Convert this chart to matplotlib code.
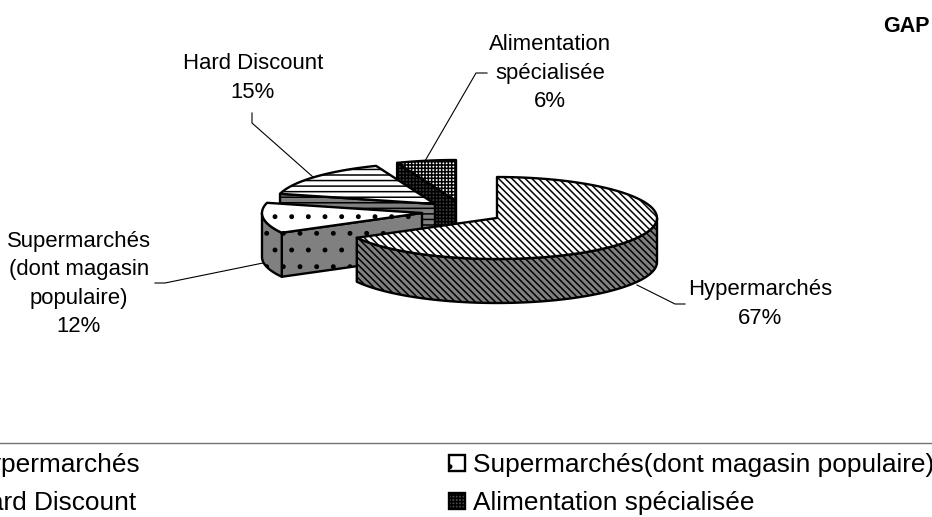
import numpy as np
import matplotlib
matplotlib.use('Agg')
import matplotlib.pyplot as plt
from matplotlib.patches import Polygon, Rectangle

plt.rcParams['font.family'] = ['Liberation Sans', 'DejaVu Sans']
plt.rcParams['hatch.linewidth'] = 1.1

# Data
categories = ['Hypermarchés', 'Supermarchés\n(dont magasin\npopulaire)', 'Hard Discount', 'Alimentation\nspécialisée']
legend_labels = ['Hypermarchés', 'Supermarchés(dont magasin populaire)', 'Hard Discount', 'Alimentation spécialisée']
shares = [67, 12, 15, 6]

# Pie layout in pixels
centre = (450, 208)
rx, ry, depth = 160, 41, 44
explode = [(47, 10), (-28, 5), (-15, -4), (6, -7)]
top_hatch = ['\\' * 5, '.', '---', '+' * 5]
side_hatch = ['\\' * 5, '.', '---', '+' * 5]
side_color = ['0.5', '0.5', '0.5', '0.25']
starts = np.cumsum([0] + shares[:-1]) * 3.6
ends = np.cumsum(shares) * 3.6

fig = plt.figure(figsize=(9.32, 5.17), dpi=100)
ax = fig.add_axes([0, 0, 1, 1])
ax.set_xlim(0, 932)
ax.set_ylim(517, 0)
ax.axis('off')


def rim(cx, cy, a, b):
    t = np.radians(np.linspace(a, b, 80))
    return np.column_stack([cx + rx * np.sin(t), cy - ry * np.cos(t)])


def face(pts, color, hatch, z):
    # hatch first, then black outline on top
    ax.add_patch(Polygon(pts, closed=True, facecolor=color, edgecolor='black', hatch=hatch, lw=0, zorder=z))
    ax.add_patch(Polygon(pts, closed=True, fill=False, edgecolor='black', lw=1.7, joinstyle='round', zorder=z + 0.1))


# back slices first
for z, i in enumerate([3, 2, 1, 0]):
    cx, cy = centre[0] + explode[i][0], centre[1] + explode[i][1]
    a, b = starts[i], ends[i]
    z = z * 10 + 2
    # side of the cut, facing the viewer
    if i in (1, 2, 3):
        edge = rim(cx, cy, a, a)[0]
        cut = np.array([[cx, cy], edge, edge + [0, depth], [cx, cy + depth]])
        face(cut, side_color[i], side_hatch[i], z)
    # outer wall, only the front half of the ellipse
    wa, wb = max(a, 90), min(b, 270)
    if wa < wb:
        arc = rim(cx, cy, wa, wb)
        wall = np.vstack([arc, arc[::-1] + [0, depth]])
        face(wall, side_color[i], side_hatch[i], z + 1)
    top = np.vstack([[cx, cy], rim(cx, cy, a, b)])
    face(top, 'white', top_hatch[i], z + 2)

# Data labels and leader lines
label_pos = [(760, 304), (79, 284), (253, 78), (550, 73)]
leaders = [
    [(637, 285), (675, 304), (685, 304)],
    [(263, 263), (165, 283), (155, 283)],
    [(252, 113), (252, 123), (313, 177)],
    [(487, 73), (476, 73), (425, 161)],
]
for i, cat in enumerate(categories):
    ax.text(label_pos[i][0], label_pos[i][1], f'{cat}\n{shares[i]}%', ha='center', va='center', fontsize=15.9, linespacing=1.44, zorder=60)
    xy = np.array(leaders[i])
    ax.plot(xy[:, 0], xy[:, 1], color='black', lw=0.8, zorder=1)

ax.text(930, 27, 'GAP', ha='right', va='center', fontsize=15.5, fontweight='bold')

# Legend, runs off the left edge like the original
ax.plot([0, 932], [443, 443], color='0.45', lw=1)
leg_x = [-30, 473]
leg_y = [465, 503]
for i, lab in enumerate(legend_labels):
    col, row = i % 2, i // 2
    ax.text(leg_x[col], leg_y[row], lab, ha='left', va='center', fontsize=18.9)
    if col == 1:
        ax.add_patch(Rectangle((449, leg_y[row] - 10.5), 16, 16, facecolor='white' if side_color[i] == '0.5' else '0.3', edgecolor='black', lw=1.7, hatch=top_hatch[i]))

fig.savefig('out.png', dpi=100)
